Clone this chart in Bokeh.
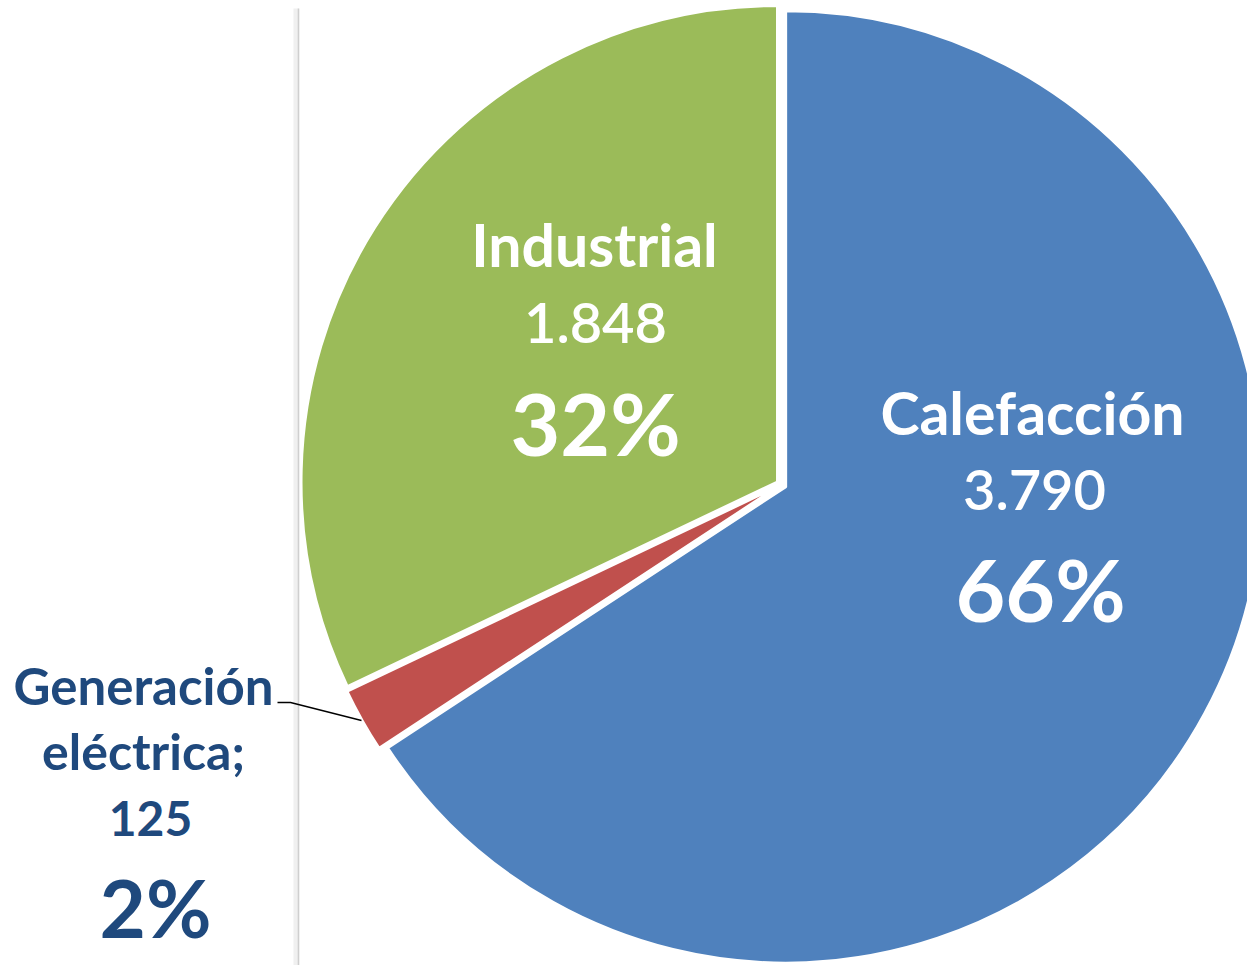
import math
from bokeh.plotting import figure
from bokeh.models import Range1d
from bokeh.core.properties import value
from bokeh.embed import file_html
from bokeh.resources import INLINE

# ---- data ----
categories = ["Calefacción", "Generación eléctrica", "Industrial"]
values = [3790, 125, 1848]
colors = ["#4F81BD", "#C0504D", "#9BBB59"]

total = sum(values)

def fmt_thousands(v):
    return f"{v:,}".replace(",", ".")

# ---- layout (screen pixel coordinates; data y = -screen y) ----
W, H = 1247, 965
p = figure(width=W, height=H, output_backend="svg", toolbar_location=None,
           x_range=Range1d(0, W), y_range=Range1d(-H, 0),
           x_axis_type=None, y_axis_type=None, min_border=0,
           outline_line_color=None, background_fill_color="white")
p.grid.visible = False

base_x, base_y = 781, 484
radius = 476
explode = 5

# vertical frame line with soft shadow
p.line([295.5, 295.5], [-8, -965], line_color="#f0f0f0", line_width=5)
p.line([298, 298], [-8, -965], line_color="#cfcfcf", line_width=1.6)

start = math.pi / 2
for cat, v, c in zip(categories, values, colors):
    sweep = 2 * math.pi * v / total
    end = start - sweep
    mid = start - sweep / 2
    cx = base_x + explode * math.cos(mid)
    cy = -base_y + explode * math.sin(mid)
    p.wedge(x=[cx], y=[cy], radius=radius, start_angle=[end], end_angle=[start],
            direction="anticlock", fill_color=c, line_color="white", line_width=2.5)
    start = end

# leader line for the small slice
p.line([277, 290, 361], [-702, -702, -720], line_color="black", line_width=1.3)

FONT = value("Lato")
pct = [round(v / total * 100) for v in values]

def label(x, baseline, txt, size, color, bold=True, font=FONT):
    # shift so that the glyph baseline lands on `baseline`
    y = baseline - 0.4 * size
    p.text(x=[x], y=[-y], text=[txt], text_font=font,
           text_font_style="bold" if bold else "normal",
           text_font_size=f"{size}px", text_color=color, text_align="center",
           text_baseline="alphabetic")

# label anchors: (x, baseline y) for name, value, percent
anchors = {
    "Calefacción": [(1032, 436), (1034, 512), (1040, 622)],
    "Industrial": [(594, 268), (595, 345), (595, 456)],
}
for cat, v, pc in zip(categories, values, pct):
    if cat in anchors:
        (nx, ny), (vx, vy), (px_, py_) = anchors[cat]
        label(nx, ny, cat, 59, "white")
        label(vx, vy, fmt_thousands(v), 56, "white", bold=False, font=value("Lato Semibold"))
        label(px_, py_, f"{pc}%", 86, "white")
    else:
        dark = "#1F497D"
        w1, w2 = cat.split(" ")
        label(143, 705, w1, 51, dark)
        label(143, 770, w2 + ";", 50, dark)
        label(150, 837, fmt_thousands(v), 48, dark)
        label(155, 938, f"{pc}%", 80, dark)

open("out.html", "w").write(file_html(p, INLINE))
